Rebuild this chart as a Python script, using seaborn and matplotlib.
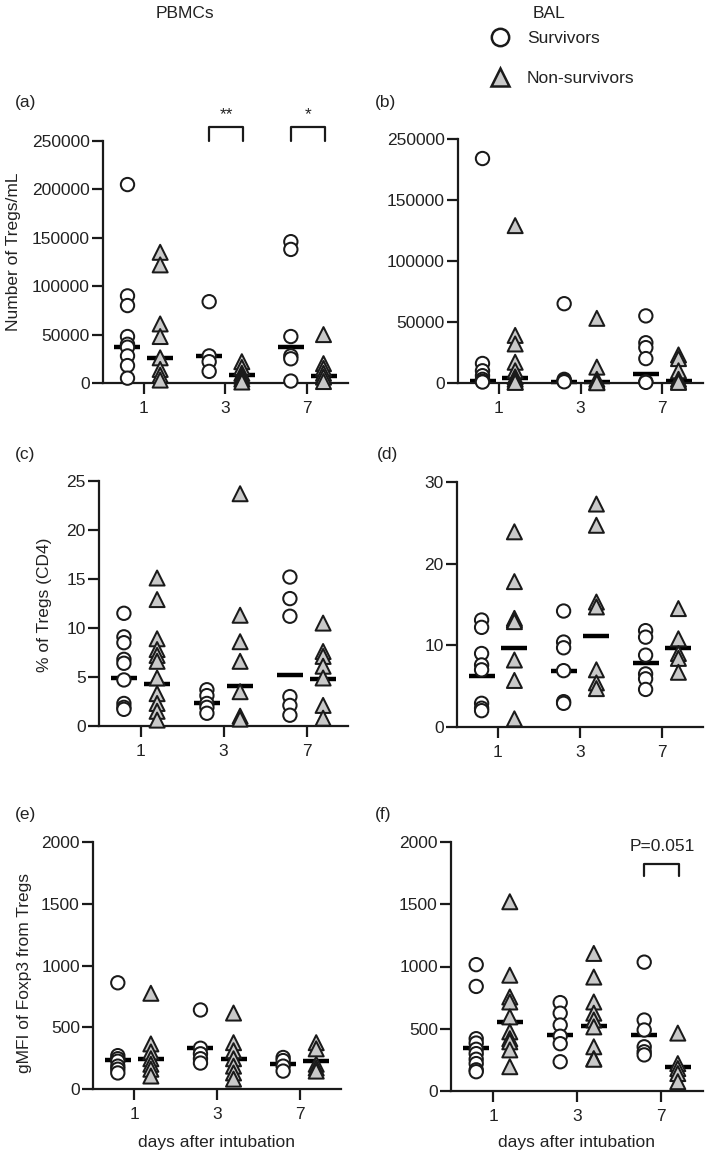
import numpy as np
import pandas as pd
import matplotlib
matplotlib.use("Agg")
import matplotlib.pyplot as plt
from matplotlib.lines import Line2D
import seaborn as sns
import warnings
warnings.filterwarnings("ignore")

# ---------------- data ----------------
days = ["1", "3", "7"]
groups = ["Survivors", "Non-survivors"]

# (a) PBMCs - number of Tregs/mL
a_surv = [[205000, 90000, 80000, 48000, 40000, 37000, 28000, 18000, 5000],
          [84000, 28000, 22000, 12000],
          [146000, 138000, 48000, 28000, 25000, 2000]]
a_non = [[135000, 122000, 61000, 48000, 26000, 14000, 8000, 3000],
         [22000, 16000, 10000, 7000, 4000, 1000],
         [50000, 20000, 15000, 10000, 6000, 1500]]
a_med_surv = [37000, 28000, 37000]
a_med_non = [26000, 8000, 7000]

# (b) BAL - number of Tregs/mL
b_surv = [[184000, 16000, 10000, 6000, 3000, 1500, 800],
          [65000, 3000, 2000, 1500, 1000],
          [55000, 33000, 29000, 20000, 1000, 500]]
b_non = [[129000, 39000, 32000, 17000, 10000, 5000, 3000, 1000, 500],
         [53000, 13000, 3000, 1000, 500, 200],
         [23000, 20000, 10000, 3000, 1000, 500]]
b_med_surv = [2000, 1000, 7000]
b_med_non = [4000, 1000, 2000]

# (c) PBMCs - % of Tregs (CD4)
c_surv = [[11.5, 9.1, 8.5, 6.8, 6.4, 4.7, 2.3, 1.9, 1.7],
          [3.7, 3.1, 2.3, 1.9, 1.3],
          [15.2, 13.0, 11.2, 3.0, 2.1, 1.1]]
c_non = [[15.1, 12.9, 8.9, 7.8, 7.2, 6.6, 4.9, 3.3, 2.3, 1.5, 0.6],
         [23.7, 11.3, 8.6, 6.6, 3.5, 1.0, 0.7],
         [10.5, 7.6, 7.1, 6.1, 4.9, 2.1, 0.8]]
c_med_surv = [4.9, 2.3, 5.2]
c_med_non = [4.25, 4.1, 4.8]

# (d) BAL - % of Tregs (CD4)
d_surv = [[13.1, 12.2, 9.0, 7.6, 7.0, 2.9, 2.3, 2.0],
          [14.2, 10.4, 9.7, 6.9, 3.1, 2.9],
          [11.8, 11.0, 8.8, 6.5, 5.9, 4.6]]
d_non = [[23.9, 17.8, 13.3, 13.1, 12.9, 8.2, 5.7, 1.0],
         [27.3, 24.7, 15.3, 14.7, 7.0, 5.4, 4.7],
         [14.5, 10.8, 9.0, 8.4, 6.7]]
d_med_surv = [6.2, 6.9, 7.8]
d_med_non = [9.7, 11.1, 9.7]

# (e) PBMCs - gMFI of Foxp3
e_surv = [[860, 270, 245, 225, 185, 160, 130],
          [640, 330, 285, 245, 210],
          [255, 230, 185, 145]]
e_non = [[775, 365, 300, 245, 200, 160, 105],
         [615, 375, 310, 245, 185, 130, 80],
         [375, 325, 200, 170, 145]]
e_med_surv = [235, 332, 200]
e_med_non = [243, 243, 225]

# (f) BAL - gMFI of Foxp3
f_surv = [[1015, 840, 420, 385, 335, 300, 255, 220, 170, 155],
          [710, 625, 530, 440, 380, 235],
          [1035, 570, 490, 355, 315, 290]]
f_non = [[1520, 930, 755, 715, 595, 475, 420, 395, 330, 195],
         [1105, 915, 715, 625, 570, 515, 355, 260, 255],
         [465, 220, 180, 140, 75]]
f_med_surv = [342, 449, 449]
f_med_non = [556, 524, 195]

# axis ticks / labels
count_ticks = [0, 50000, 100000, 150000, 200000, 250000]
count_labels = ["0", "50000", "100000", "150000", "200000", "250000"]
bal_count_ticks = [0, 50000, 100000, 150000, 200000]
bal_count_labels = ["0", "50000", "100000", "150000", "250000"]
pct_ticks_c = [0, 5, 10, 15, 20, 25]
pct_ticks_d = [0, 10, 20, 30]
mfi_ticks = [0, 500, 1000, 1500, 2000]

# ---------------- styling ----------------
sns.set_theme(style="ticks")
plt.rcParams["font.family"] = ["Liberation Sans", "DejaVu Sans"]
FS = 12.5
INK = "#1a1a1a"
TXT = "#222222"
palette = {"Survivors": "white", "Non-survivors": "#c9c9c9"}
markers = {"Survivors": "o", "Non-survivors": "^"}
msizes = {"Survivors": 9.6, "Non-survivors": 10.8}

W, H = 709, 1153
fig = plt.figure(figsize=(W / 100, H / 100), dpi=100)
fig.patch.set_facecolor("white")


def px_axes(left, right, top, bottom):
    return fig.add_axes([left / W, 1 - bottom / H, (right - left) / W, (bottom - top) / H])


def long_df(surv, non):
    rows = []
    for grp, sets in (("Survivors", surv), ("Non-survivors", non)):
        for d, vals in zip(days, sets):
            for v in vals:
                rows.append({"day": d, "group": grp, "value": v})
    return pd.DataFrame(rows)


def med_df(ms, mn):
    rows = []
    for grp, vals in (("Survivors", ms), ("Non-survivors", mn)):
        for d, v in zip(days, vals):
            rows.append({"day": d, "group": grp, "value": v})
    return pd.DataFrame(rows)


def draw_panel(ax, surv, non, ms, mn, ylim, yticks, ylabels=None):
    df = long_df(surv, non)
    for grp in groups:
        sns.stripplot(data=df[df["group"] == grp], x="day", y="value", hue="group",
                      hue_order=groups, order=days, dodge=True, jitter=False,
                      palette=palette, marker=markers[grp], size=msizes[grp],
                      edgecolor=INK, linewidth=1.45, legend=False, ax=ax)
    sns.pointplot(data=med_df(ms, mn), x="day", y="value", hue="group",
                  hue_order=groups, order=days, dodge=0.4,
                  palette={"Survivors": "black", "Non-survivors": "black"},
                  markers="_", linestyles="none", errorbar=None, legend=False,
                  markersize=19, markeredgewidth=3.2, ax=ax)
    ax.set_xlim(-0.5, 2.5)
    ax.set_ylim(*ylim)
    ax.set_yticks(yticks)
    if ylabels is not None:
        ax.set_yticklabels(ylabels)
    ax.set_xlabel("")
    ax.set_ylabel("")
    for c in ax.collections:
        if len(c.get_offsets()) > 0:
            c.set_clip_on(False)
    for ln in ax.lines:
        if len(ln.get_xdata()) > 0:
            ln.set_clip_on(False)
    sns.despine(ax=ax)
    for s in ("left", "bottom"):
        ax.spines[s].set_linewidth(1.6)
        ax.spines[s].set_color(INK)
    ax.tick_params(axis="both", length=8, width=1.6, color=INK,
                   labelsize=FS, labelcolor=TXT)
    ax.tick_params(axis="y", pad=1.5)
    ax.tick_params(axis="x", pad=5)
    ax.set_facecolor("none")


def bracket(ax, pos, y0, y1, text, ytext):
    ax.plot([pos - 0.2, pos - 0.2, pos + 0.22, pos + 0.22], [y0, y1, y1, y0],
            color=INK, lw=1.6, clip_on=False)
    ax.text(pos + 0.01, ytext, text, ha="center", va="center", fontsize=FS, color=TXT)


ax_a = px_axes(103, 348, 141, 383)
draw_panel(ax_a, a_surv, a_non, a_med_surv, a_med_non, (0, 250000), count_ticks, count_labels)
bracket(ax_a, 1, 250000, 264500, "**", 277000)
bracket(ax_a, 2, 250000, 264500, "*", 277000)

ax_b = px_axes(458, 703, 139, 383)
draw_panel(ax_b, b_surv, b_non, b_med_surv, b_med_non, (0, 200000), bal_count_ticks, bal_count_labels)

ax_c = px_axes(99, 348, 481, 726)
draw_panel(ax_c, c_surv, c_non, c_med_surv, c_med_non, (0, 25), pct_ticks_c)

ax_d = px_axes(457, 703, 482, 727)
draw_panel(ax_d, d_surv, d_non, d_med_surv, d_med_non, (0, 30), pct_ticks_d)

ax_e = px_axes(93, 341, 842, 1089)
draw_panel(ax_e, e_surv, e_non, e_med_surv, e_med_non, (0, 2000), mfi_ticks)

ax_f = px_axes(451, 703, 842, 1091)
draw_panel(ax_f, f_surv, f_non, f_med_surv, f_med_non, (0, 2000), mfi_ticks)
bracket(ax_f, 2, 1727, 1823, "P=0.051", 1960)


def ftext(x, y, s, **kw):
    fig.text(x / W, 1 - y / H, s, fontsize=FS, color=TXT, **kw)


# y-axis labels
ftext(14, 252, "Number of Tregs/mL", rotation=90, ha="center", va="center")
ftext(45, 605, "% of Tregs (CD4)", rotation=90, ha="center", va="center")
ftext(25, 973, "gMFI of Foxp3 from Tregs", rotation=90, ha="center", va="center")
# x-axis labels
ftext(216, 1143, "days after intubation", ha="center", va="center")
ftext(577, 1143, "days after intubation", ha="center", va="center")
# column titles
ftext(185, 13, "PBMCs", ha="center", va="center")
ftext(549, 13, "BAL", ha="center", va="center")
# panel letters
for lab, x, y in [("(a)", 15, 103), ("(b)", 375, 103), ("(c)", 15, 455),
                  ("(d)", 377, 455), ("(e)", 15, 815), ("(f)", 375, 815)]:
    ftext(x, y, lab, ha="left", va="center")

# legend
handles = [Line2D([], [], linestyle="none", marker="o", markersize=12.5,
                  markerfacecolor="white", markeredgecolor=INK, markeredgewidth=1.8),
           Line2D([], [], linestyle="none", marker="^", markersize=13.5,
                  markerfacecolor="#c9c9c9", markeredgecolor=INK, markeredgewidth=1.8)]
fig.legend(handles, groups, loc="upper left", bbox_to_anchor=(487 / W, 1 - 31 / H),
           frameon=False, fontsize=FS, handlelength=1.5, handletextpad=0.8,
           labelspacing=1.4, borderpad=0, borderaxespad=0, labelcolor=TXT)

fig.savefig("out.png", dpi=100, facecolor="white")
